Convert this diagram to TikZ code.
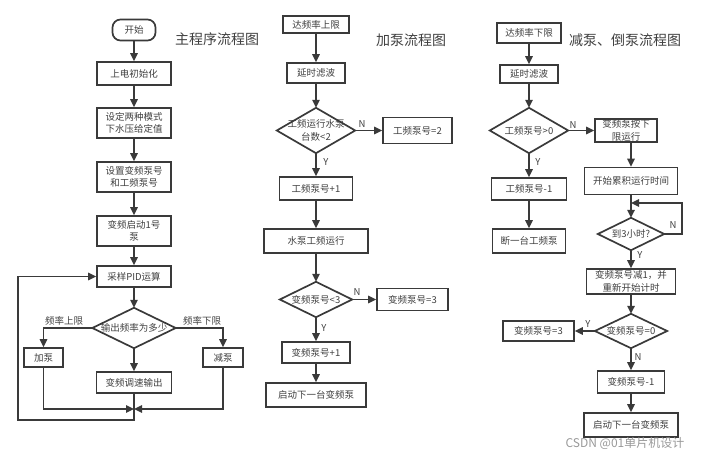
\documentclass[tikz,border=0pt]{standalone}
\usepackage{fontspec}
\setmainfont{Noto Sans CJK SC}
\usetikzlibrary{arrows.meta,calc}
\definecolor{lc}{HTML}{3A3A3A}
\definecolor{tc}{HTML}{404040}
\newcommand\dmd[1]{\draw[boxline] (#1.north) -- (#1.east) -- (#1.south) -- (#1.west) -- cycle;}
\begin{document}
\begin{tikzpicture}[x=1pt,y=-1pt,
  boxline/.style={draw=lc,line width=1.7pt},
  txt/.style={font=\fontsize{9.5}{12.5}\selectfont,text=tc,align=center,inner sep=0pt},
  box/.style={boxline,txt,fill=white,minimum width=#1},
  dia/.style={txt,minimum width=#1},
  arr/.style={draw=lc,line width=1.5pt,-{Triangle[length=8pt,width=7.5pt]}},
  lbl/.style={font=\fontsize{9.5}{11}\selectfont,text=tc,inner sep=0pt},
  ttl/.style={font=\fontsize{14}{16}\selectfont,text=tc,inner sep=0pt}]
\useasboundingbox (0,0) rectangle (701,457);
% ---------- main flow ----------
\node[box=43,minimum height=21,rounded corners=8pt] (st) at (134,30) {开始};
\node[ttl] (t1) at (217,39) {主程序流程图};
\node[box=74,minimum height=23] (init) at (134,73.5) {上电初始化};
\node[box=74,minimum height=30] (mode) at (134,123) {设定两种模式\\下水压给定值};
\node[box=74,minimum height=30] (pn) at (134,177) {设置变频泵号\\和工频泵号};
\node[box=74,minimum height=30] (s1) at (134,231) {变频启动1号\\泵};
\node[box=74,minimum height=21] (pid) at (134,276.5) {采样PID运算};
\node[dia=83,minimum height=40] (dm) at (134,328) {输出频率为多少};
\dmd{dm}
\node[box=39,minimum height=19] (jia) at (43.5,357.5) {加泵};
\node[box=40,minimum height=19] (jian) at (223,357.5) {减泵};
\node[box=75,minimum height=21] (out) at (134,382.5) {变频调速输出};
\node[lbl] (l1) at (64,321) {频率上限};
\node[lbl] (l2) at (202,321) {频率下限};
\coordinate (m) at (134,409);
\coordinate (lb) at (18,420);
\draw[arr] (st) -- (init);
\draw[arr] (init) -- (mode);
\draw[arr] (mode) -- (pn);
\draw[arr] (pn) -- (s1);
\draw[arr] (s1) -- (pid);
\draw[arr] (pid) -- (dm.north);
\draw[arr] (dm.west) -| (jia.north);
\draw[arr] (dm.east) -| (jian.north);
\draw[arr] (dm.south) -- (out);
\draw[arr] (jia.south) |- (m);
\draw[arr] (jian.south) |- (m);
\draw[arr] (out.south) -- (out.south |- lb) -- (lb) |- (pid.west);
% ---------- add pump ----------
\node[box=66,minimum height=17] (up) at (316,24.5) {达频率上限};
\node[ttl] (t2) at (411,40) {加泵流程图};
\node[box=58,minimum height=20] (dl1) at (316,73) {延时滤波};
\node[dia=78,minimum height=45] (d1) at (316,130.5) {工频运行水泵\\台数<2};
\dmd{d1}
\node[box=69,minimum height=26] (g2) at (417.5,130.5) {工频泵号=2};
\node[box=73,minimum height=23] (gp) at (316,188.5) {工频泵号+1};
\node[box=104,minimum height=24] (run) at (316,241) {水泵工频运行};
\node[dia=72,minimum height=35] (d2) at (316,299.5) {变频泵号<3};
\dmd{d2}
\node[box=71,minimum height=22] (b3) at (412.5,299.5) {变频泵号=3};
\node[box=68,minimum height=21] (bp) at (316,352.5) {变频泵号+1};
\node[box=100,minimum height=24] (nx1) at (316,395) {启动下一台变频泵};
\node[lbl] (n1) at (362,124) {N};
\node[lbl] (y1) at (326,162) {Y};
\node[lbl] (n2) at (357,292) {N};
\node[lbl] (y2) at (324,328) {Y};
\draw[arr] (up) -- (dl1);
\draw[arr] (dl1) -- (d1.north);
\draw[arr] (d1.east) -- (g2);
\draw[arr] (d1.south) -- (gp);
\draw[arr] (gp) -- (run);
\draw[arr] (run) -- (d2.north);
\draw[arr] (d2.east) -- (b3);
\draw[arr] (d2.south) -- (bp);
\draw[arr] (bp) -- (nx1);
% ---------- reduce pump ----------
\node[box=64,minimum height=20] (dn) at (529,33) {达频率下限};
\node[ttl] (t3) at (625,40) {减泵、倒泵流程图};
\node[box=58,minimum height=18] (dl2) at (529,74) {延时滤波};
\node[dia=78,minimum height=45] (d3) at (529,130.5) {工频泵号>0};
\dmd{d3}
\node[box=62,minimum height=23] (low) at (626,130.5) {变频泵按下\\限运行};
\node[box=93,minimum height=27] (acc) at (631,181) {开始累积运行时间};
\node[box=75,minimum height=22] (gm) at (529,189) {工频泵号-1};
\node[box=73,minimum height=24] (cut) at (529,241) {断一台工频泵};
\node[dia=66,minimum height=32] (d4) at (631,234) {到3小时?};
\dmd{d4}
\node[box=89,minimum height=25] (rs) at (631,281.5) {变频泵号减1，并\\重新开始计时};
\node[dia=72,minimum height=34] (d5) at (631,331) {变频泵号=0};
\dmd{d5}
\node[box=71,minimum height=20] (b3b) at (538.5,331) {变频泵号=3};
\node[box=67,minimum height=22] (bm) at (631,382) {变频泵号-1};
\node[box=94,minimum height=24] (nx2) at (631,425) {启动下一台变频泵};
\node[lbl] (n3) at (573,125) {N};
\node[lbl] (y3) at (538,162) {Y};
\node[lbl] (n4) at (673,225) {N};
\node[lbl] (y4) at (640,255) {Y};
\node[lbl] (y5) at (588,324) {Y};
\node[lbl] (n5) at (638,357) {N};
\coordinate (lp) at (682,203);
\draw[arr] (dn) -- (dl2);
\draw[arr] (dl2) -- (d3.north);
\draw[arr] (d3.east) -- (low);
\draw[arr] (low.south -| acc.north) -- (acc.north);
\draw[arr] (d3.south) -- (gm);
\draw[arr] (gm) -- (cut);
\draw[arr] (acc) -- (d4.north);
\draw[arr] (d4.east) -| (lp) -- (lp -| d4.north);
\draw[arr] (d4.south) -- (rs);
\draw[arr] (rs) -- (d5.north);
\draw[arr] (d5.west) -- (b3b);
\draw[arr] (d5.south) -- (bm);
\draw[arr] (bm) -- (nx2);
\node[font=\fontsize{12}{14}\selectfont,text=black!40,inner sep=0pt] (wm) at (625,443) {CSDN @01单片机设计};
\end{tikzpicture}
\end{document}
